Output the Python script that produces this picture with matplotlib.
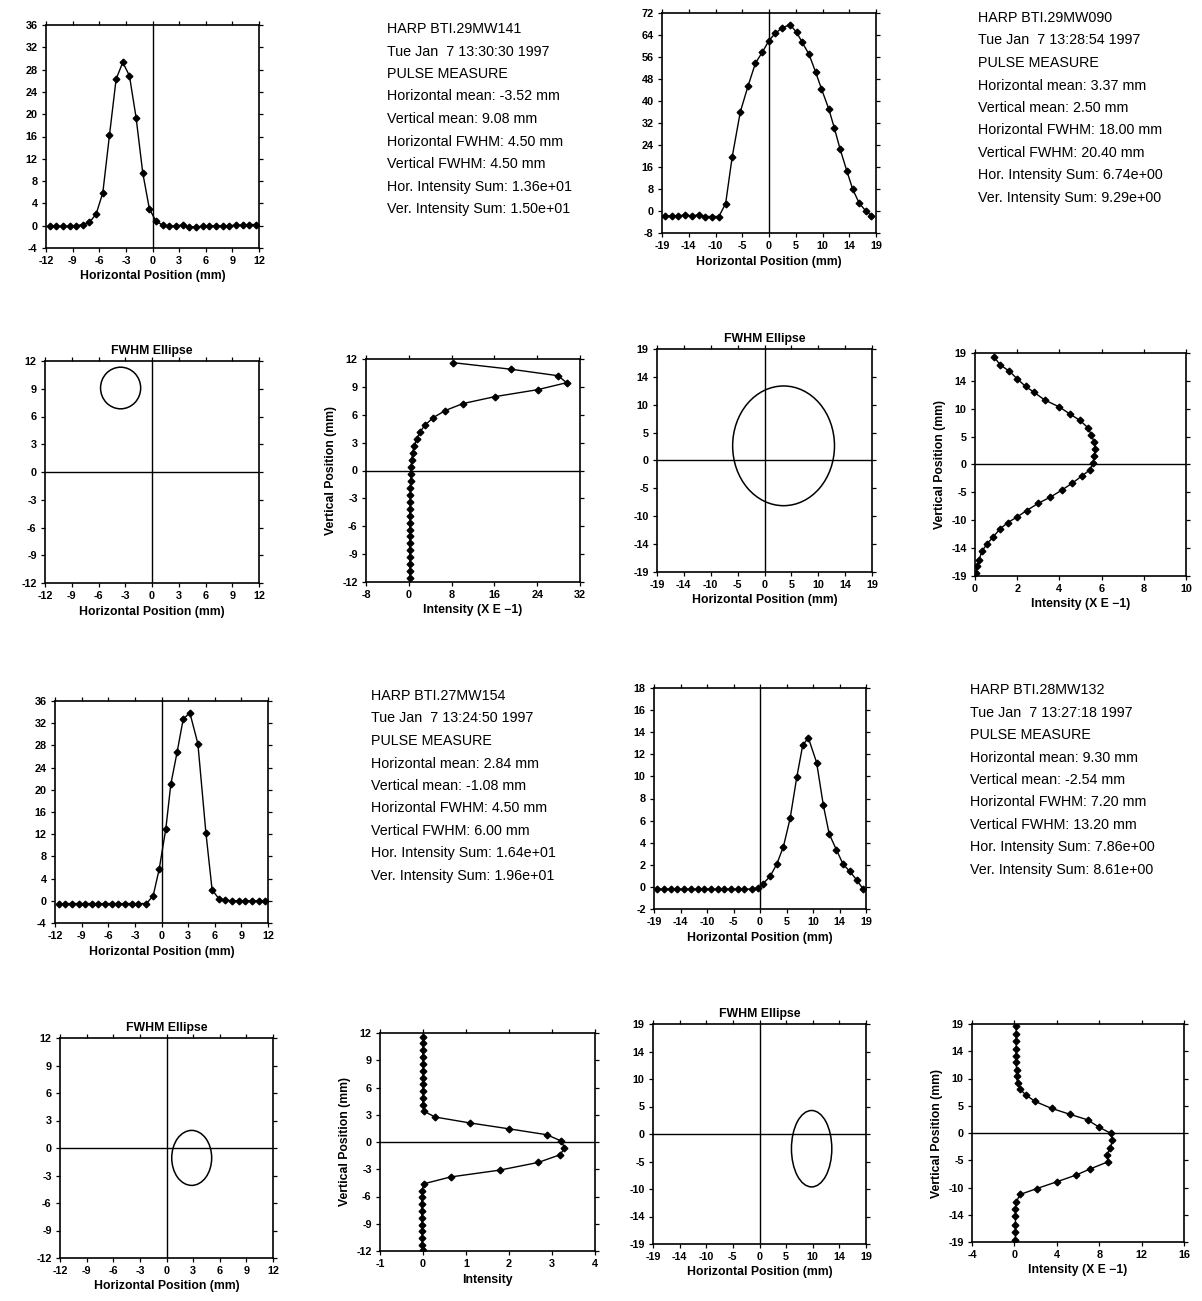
import numpy as np
import matplotlib
matplotlib.use("Agg")
import matplotlib.pyplot as plt
from matplotlib.patches import Ellipse

plt.rcParams['font.family'] = ['Liberation Sans', 'DejaVu Sans']

W, H = 1202, 1301

# ---- text blocks (one per harp) ----
harp_names = ["HARP BTI.29MW141", "HARP BTI.29MW090", "HARP BTI.27MW154", "HARP BTI.28MW132"]
harp_times = ["Tue Jan  7 13:30:30 1997", "Tue Jan  7 13:28:54 1997",
              "Tue Jan  7 13:24:50 1997", "Tue Jan  7 13:27:18 1997"]
h_mean = [-3.52, 3.37, 2.84, 9.30]
v_mean = [9.08, 2.50, -1.08, -2.54]
h_fwhm = [4.50, 18.00, 4.50, 7.20]
v_fwhm = [4.50, 20.40, 6.00, 13.20]
h_sum = ["1.36e+01", "6.74e+00", "1.64e+01", "7.86e+00"]
v_sum = ["1.50e+01", "9.29e+00", "1.96e+01", "8.61e+00"]

# ---- profile data ----
# harp 1 (range 12 mm)
h1_x = [-11.6, -10.85, -10.1, -9.35, -8.6, -7.85, -7.1, -6.35, -5.6, -4.85, -4.1, -3.35, -2.6,
        -1.85, -1.1, -0.35, 0.4, 1.15, 1.9, 2.65, 3.4, 4.15, 4.9, 5.65, 6.4, 7.15, 7.9, 8.65,
        9.4, 10.15, 10.9, 11.65]
h1_y = [0.0, -0.1, -0.1, -0.1, 0.0, 0.2, 0.6, 2.1, 5.9, 16.2, 26.3, 29.3, 26.9, 19.4, 9.5, 3.0,
        0.8, 0.1, -0.1, 0.0, 0.1, -0.2, -0.2, -0.1, 0.0, 0.0, 0.0, 0.0, 0.1, 0.1, 0.2, 0.2]
v1_pos = [11.6, 10.9, 10.2, 9.45, 8.7, 7.95, 7.2, 6.45, 5.7, 4.9, 4.15, 3.4, 2.65, 1.9, 1.15, 0.4,
          -0.35, -1.1, -1.85, -2.6, -3.35, -4.1, -4.85, -5.6, -6.35, -7.1, -7.85, -8.6, -9.35,
          -10.1, -10.85, -11.6]
v1_int = [8.35, 19.1, 27.9, 29.5, 24.1, 16.1, 10.1, 6.8, 4.6, 3.05, 2.1, 1.5, 1.0, 0.7, 0.55, 0.45,
          0.4, 0.35, 0.3, 0.3, 0.25, 0.25, 0.2, 0.2, 0.2, 0.2, 0.15, 0.15, 0.2, 0.2, 0.2, 0.25]

# harp 2 (range 19 mm)
h2_x = [-18.5, -17.3, -16.1, -14.9, -13.7, -12.5, -11.3, -10.1, -8.9, -7.7, -6.55, -5.1, -3.7,
        -2.4, -1.2, 0.0, 1.15, 2.3, 3.7, 4.9, 5.9, 7.1, 8.3, 9.3, 10.6, 11.6, 12.6, 13.8, 14.85,
        16.0, 17.2, 18.2]
h2_y = [-1.8, -1.8, -1.8, -1.4, -1.8, -1.4, -2.0, -2.0, -2.0, 2.7, 19.5, 36.0, 45.6, 53.8, 57.7,
        62.0, 64.7, 66.5, 67.8, 65.0, 61.3, 57.0, 50.4, 44.5, 37.2, 30.2, 22.7, 14.7, 8.0, 2.9,
        0.0, -1.7]
v2_pos = [18.3, 17.0, 15.9, 14.6, 13.3, 12.3, 11.0, 9.8, 8.6, 7.5, 6.2, 5.1, 3.8, 2.7, 1.5, 0.3,
          -0.9, -2.0, -3.2, -4.4, -5.6, -6.6, -7.85, -9.0, -9.9, -11.0, -12.3, -13.5, -14.8,
          -16.2, -17.3, -18.5]
v2_int = [0.92, 1.18, 1.63, 2.0, 2.4, 2.8, 3.3, 4.0, 4.5, 4.98, 5.37, 5.5, 5.65, 5.7, 5.65, 5.6,
          5.45, 5.05, 4.6, 4.1, 3.55, 3.0, 2.45, 1.97, 1.55, 1.18, 0.87, 0.58, 0.32, 0.2, 0.1, 0.05]

# harp 3 (range 12 mm)
h3_x = [-11.6, -10.85, -10.1, -9.35, -8.6, -7.85, -7.1, -6.35, -5.6, -4.85, -4.1, -3.35, -2.6,
        -1.7, -0.94, -0.26, 0.49, 1.05, 1.76, 2.44, 3.19, 4.1, 5.0, 5.7, 6.45, 7.2, 7.95, 8.7,
        9.45, 10.2, 10.95, 11.7]
h3_y = [-0.6, -0.5, -0.5, -0.5, -0.5, -0.5, -0.5, -0.5, -0.5, -0.5, -0.5, -0.5, -0.5, -0.5, 0.9,
        5.7, 13.0, 21.0, 26.8, 32.7, 33.9, 28.3, 12.3, 2.0, 0.4, 0.1, 0.0, 0.0, 0.0, 0.0, 0.0, 0.0]
v3_pos = [11.6, 10.85, 10.1, 9.35, 8.6, 7.85, 7.1, 6.35, 5.6, 4.85, 4.1, 3.4, 2.75, 2.1, 1.45,
          0.8, 0.1, -0.65, -1.4, -2.25, -3.1, -3.85, -4.6, -5.35, -6.1, -6.85, -7.6, -8.35,
          -9.1, -9.85, -10.6, -11.35, -11.9]
v3_int = [0.0, 0.0, 0.0, 0.0, 0.0, 0.0, 0.0, 0.0, 0.0, 0.0, 0.0, 0.02, 0.28, 1.09, 2.0, 2.88,
          3.22, 3.29, 3.19, 2.68, 1.78, 0.64, 0.02, -0.02, -0.03, -0.03, -0.03, -0.03, -0.02,
          -0.02, -0.02, -0.02, -0.01]

# harp 4 (range 19 mm)
h4_x = [-18.4, -17.2, -16.0, -14.8, -13.6, -12.4, -11.2, -10.0, -8.8, -7.6, -6.4, -5.2, -4.0,
        -2.8, -1.5, -0.3, 0.48, 1.8, 3.0, 4.2, 5.4, 6.6, 7.65, 8.66, 10.15, 11.35, 12.4, 13.7,
        14.9, 16.1, 17.3, 18.5]
h4_y = [-0.2, -0.2, -0.2, -0.2, -0.2, -0.2, -0.2, -0.2, -0.2, -0.2, -0.2, -0.2, -0.2, -0.2,
        -0.2, -0.1, 0.25, 0.95, 2.05, 3.65, 6.2, 9.95, 12.8, 13.5, 11.25, 7.4, 4.8, 3.35, 2.05,
        1.4, 0.65, -0.2]
v4_pos = [18.6, 17.25, 16.0, 14.7, 13.5, 12.3, 11.0, 9.85, 8.7, 7.6, 6.6, 5.5, 4.3, 3.25, 2.3,
          1.0, -0.06, -1.2, -2.7, -3.85, -5.0, -6.3, -7.35, -8.5, -9.7, -10.7, -12.0, -13.2,
          -14.5, -16.0, -17.2, -18.7]
v4_int = [0.17, 0.17, 0.17, 0.17, 0.17, 0.17, 0.2, 0.2, 0.3, 0.55, 1.1, 1.95, 3.5, 5.25, 6.9,
          8.0, 9.1, 9.25, 9.05, 8.7, 8.85, 7.1, 5.8, 4.0, 2.1, 0.55, 0.17, 0.1, 0.1, 0.1, 0.1, 0.1]

# ---- tick settings ----
pos12_ticks = [-12, -9, -6, -3, 0, 3, 6, 9, 12]
pos12_labels = ["-12", "-9", "-6", "-3", "0", "3", "6", "9", "12"]
pos19_ticks = [-19, -14.25, -9.5, -4.75, 0, 4.75, 9.5, 14.25, 19]
pos19_labels = ["-19", "-14", "-10", "-5", "0", "5", "10", "14", "19"]


def px_axes(fig, l, t, r, b):
    return fig.add_axes([l / W, 1 - b / H, (r - l) / W, (b - t) / H])


def style(ax, xt, xl, yt, yl):
    ax.set_xticks(xt)
    ax.set_xticklabels(xl, fontsize=7.8, fontweight='bold')
    ax.set_yticks(yt)
    ax.set_yticklabels(yl, fontsize=7.8, fontweight='bold')
    ax.set_xlim(xt[0], xt[-1])
    ax.set_ylim(yt[0], yt[-1])
    ax.tick_params(direction='out', length=3, width=0.9, top=True, right=True, pad=3)
    for s in ax.spines.values():
        s.set_linewidth(1.2)


def num_ticks(lo, hi, step):
    vals = list(np.arange(lo, hi + step / 2, step))
    return vals, [f"{v:g}" for v in vals]


fig = plt.figure(figsize=(W / 100, H / 100), dpi=100)

mk = dict(color='black', lw=1.0, marker='D', ms=3.4)
lab = dict(fontsize=8.8, fontweight='bold')

# horizontal profile panels
hboxes = [(46, 25, 259, 248), (662, 13, 876, 233), (55, 701, 268, 923), (654, 688, 866, 909)]
hdata = [(h1_x, h1_y), (h2_x, h2_y), (h3_x, h3_y), (h4_x, h4_y)]
hy = [num_ticks(-4, 36, 4), num_ticks(-8, 72, 8), num_ticks(-4, 36, 4), num_ticks(-2, 18, 2)]
rng = [(pos12_ticks, pos12_labels), (pos19_ticks, pos19_labels),
       (pos12_ticks, pos12_labels), (pos19_ticks, pos19_labels)]

eboxes = [(45, 361, 259, 583), (657, 349, 872, 572), (60, 1038, 273, 1258), (653, 1024, 866, 1244)]
vboxes = [(366, 359, 580, 582), (975, 353, 1186, 576), (380, 1033, 595, 1251), (972, 1024, 1184, 1242)]
vdata = [(v1_pos, v1_int), (v2_pos, v2_int), (v3_pos, v3_int), (v4_pos, v4_int)]
vx = [num_ticks(-8, 32, 8), num_ticks(0, 10, 2), num_ticks(-1, 4, 1), num_ticks(-4, 16, 4)]
vxlab = ["Intensity (X E \u22121)", "Intensity (X E \u22121)", "Intensity", "Intensity (X E \u22121)"]

text_pos = [(387, 29), (978, 18), (371, 696), (970, 690)]

for i in range(4):
    rt, rl = rng[i]
    # horizontal profile
    ax = px_axes(fig, *hboxes[i])
    ax.plot(hdata[i][0], hdata[i][1], **mk)
    ax.axvline(0, color='black', lw=1.0)
    style(ax, rt, rl, hy[i][0], hy[i][1])
    ax.set_xlabel("Horizontal Position (mm)", labelpad=3, **lab)

    # FWHM ellipse
    ax = px_axes(fig, *eboxes[i])
    ax.add_patch(Ellipse((h_mean[i], v_mean[i]), h_fwhm[i], v_fwhm[i],
                         fill=False, color='black', lw=1.1))
    ax.axvline(0, color='black', lw=1.0)
    ax.axhline(0, color='black', lw=1.0)
    style(ax, rt, rl, rt, rl)
    ax.set_xlabel("Horizontal Position (mm)", labelpad=3, **lab)
    ax.set_title("FWHM Ellipse", pad=5, **lab)

    # vertical profile
    ax = px_axes(fig, *vboxes[i])
    ax.plot(vdata[i][1], vdata[i][0], **mk)
    ax.axhline(0, color='black', lw=1.0)
    style(ax, vx[i][0], vx[i][1], rt, rl)
    ax.set_xlabel(vxlab[i], labelpad=3, **lab)
    ax.set_ylabel("Vertical Position (mm)", labelpad=4, **lab)

    # info text
    lines = [harp_names[i], harp_times[i], "PULSE MEASURE",
             f"Horizontal mean: {h_mean[i]:.2f} mm",
             f"Vertical mean: {v_mean[i]:.2f} mm",
             f"Horizontal FWHM: {h_fwhm[i]:.2f} mm",
             f"Vertical FWHM: {v_fwhm[i]:.2f} mm",
             f"Hor. Intensity Sum: {h_sum[i]}",
             f"Ver. Intensity Sum: {v_sum[i]}"]
    tx, ty = text_pos[i]
    for k, line in enumerate(lines):
        fig.text(tx / W, 1 - (ty + k * 22.5) / H, line, fontsize=10.3,
                 va='center', ha='left')

fig.savefig("out.png", dpi=100)
